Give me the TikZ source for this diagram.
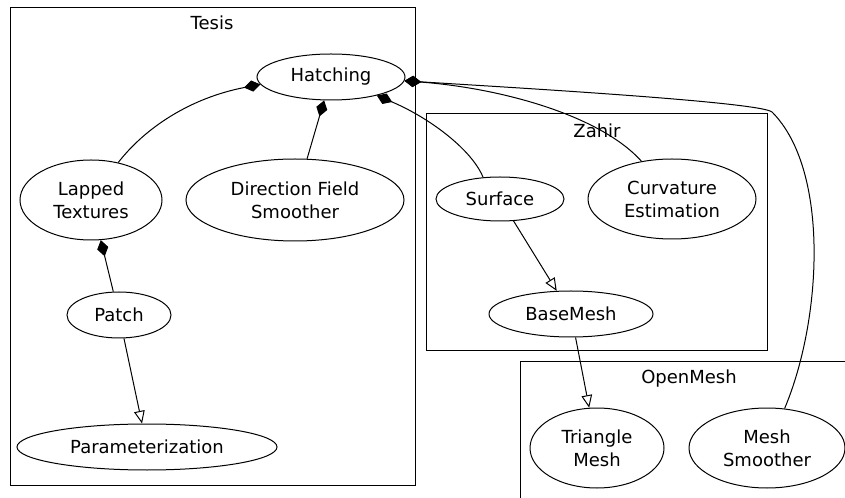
\documentclass[tikz,border=0pt]{standalone}
\usepackage{fontspec}
\setmainfont{DejaVu Sans}
\usetikzlibrary{shapes.geometric,arrows.meta}
\newcommand\cl[1]{\makebox[0pt]{#1}}
\begin{document}
\begin{tikzpicture}[x=0.75pt,y=-0.75pt, line width=0.75pt,
  every node/.style={font=\fontsize{13.5}{17.25}\selectfont},
  ell/.style 2 args={ellipse, draw, inner sep=0pt, align=center,
     minimum width=#1*1.5pt, minimum height=#2*1.5pt},
  diam/.style={-{Diamond[length=12.5pt,width=8.5pt]}},
  tri/.style={-{Triangle[open,length=9.5pt,width=8pt,fill=white]}},
  clus/.style={draw}]
\useasboundingbox (0,0) rectangle (845,498);
\clip (0,0) rectangle (845,498);
% clusters
\draw[clus] (10,8) rectangle (415,485);
\node (ltesis) at (212,23) {Tesis};
\draw[clus] (426,114) rectangle (767,351);
\node (lzahir) at (597,131) {Zahir};
\draw[clus] (520,362) rectangle (860,520);
\node (lopen) at (689,379) {OpenMesh};
% nodes
\node[ell={74}{23}] (hatch) at (331,77) {\cl{Hatching}};
\node[ell={109}{41}] (dfs) at (295,200) {\cl{Direction Field}\\\cl{Smoother}};
\node[ell={71}{40}] (lapped) at (91,200) {\cl{Lapped}\\\cl{Textures}};
\node[ell={52}{23}] (patch) at (119,315) {\cl{Patch}};
\node[ell={130}{23}] (param) at (147,447) {\cl{Parameterization}};
\node[ell={64}{22}] (surf) at (500,199) {\cl{Surface}};
\node[ell={84}{40}] (curv) at (672,199) {\cl{Curvature}\\\cl{Estimation}};
\node[ell={82}{23}] (base) at (571,314) {\cl{BaseMesh}};
\node[ell={67}{40}] (tri) at (597,448) {\cl{Triangle}\\\cl{Mesh}};
\node[ell={78}{40}] (ms) at (767,448) {\cl{Mesh}\\\cl{Smoother}};
% edges
\draw[diam] (lapped.54) .. controls (145,128) and (190,98) .. (hatch.186);
\draw[diam] (dfs) -- (hatch);
\draw[diam] (patch) -- (lapped);
\draw[tri] (patch) -- (param);
\draw[tri] (surf) -- (base);
\draw[tri] (base) -- (tri);
\draw[diam] (surf.128) .. controls (472,150) and (430,118) .. (hatch.-22);
\draw[diam] (curv.129) .. controls (600,115) and (500,88) .. (hatch.-3);
\draw[diam] (ms.66) .. controls (822,320) and (830,170) .. (772,112)
   .. controls (760,102) and (520,88) .. (hatch.-3);
\end{tikzpicture}
\end{document}
